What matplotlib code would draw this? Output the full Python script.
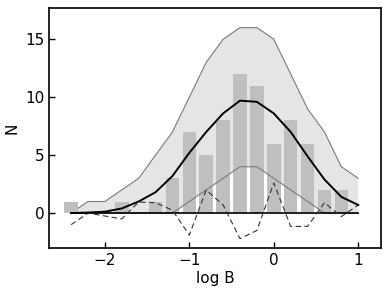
#!/usr/bin/env python3
"""histogram of log B with envelope"""
import matplotlib
matplotlib.use('Agg')
from matplotlib import pyplot as plt

# bar data
bar_x = [-2.4, -2.2, -2.0, -1.8, -1.6, -1.4, -1.2, -1.0, -0.8, -0.6, -0.4, -0.2, 0.0, 0.2, 0.4, 0.6, 0.8]
bar_n = [1, 0, 0, 1, 0, 1, 3, 7, 5, 8, 12, 11, 6, 8, 6, 2, 2]

# curves sampled on the same grid (plus 1.0)
grid = [-2.4, -2.2, -2.0, -1.8, -1.6, -1.4, -1.2, -1.0, -0.8, -0.6, -0.4, -0.2, 0.0, 0.2, 0.4, 0.6, 0.8, 1.0]
upper = [0, 1, 1, 2, 3, 5, 7, 10, 13, 15, 16, 16, 15, 12, 9, 7, 4, 3]
lower = [0, 0, 0, 0, 0, 0, 0, 1, 2, 3, 4, 4, 3, 2, 1, 0, 0, 0]
mean = [0, 0.05, 0.12, 0.4, 1.0, 1.8, 3.2, 5.2, 7.0, 8.6, 9.7, 9.6, 8.6, 7.0, 4.9, 2.9, 1.4, 0.7]
resid = [-1.0, 0, -0.25, -0.5, 0.95, 0.9, 0.25, -1.9, 2.0, 0.7, -2.2, -1.5, 2.6, -1.15, -1.15, 0.9, -0.3, 0.7]

fig = plt.figure(figsize=(3.9, 2.93), dpi=100)
ax = fig.add_axes([0.126, 0.154, 0.851, 0.819])

ax.fill_between(grid, lower, upper, facecolor='#e5e5e5', edgecolor='none', zorder=1)
ax.plot(grid, upper, c='#7a7a7a', lw=0.8, zorder=2)
ax.plot(grid, lower, c='#7a7a7a', lw=0.8, zorder=4)
ax.bar(bar_x, bar_n, width=0.16, color='#bfbfbf', edgecolor='none', zorder=3)
ax.plot([grid[0], grid[-1]], [0, 0], c='black', lw=1.2, zorder=5)
ax.plot(grid, resid, c='#333333', lw=0.8, ls=(0, (5, 3)), zorder=5)
ax.plot(grid, mean, c='black', lw=1.4, zorder=6)

ax.set_xlim(-2.66, 1.27)
ax.set_ylim(-3.0, 17.7)
ax.set_xticks([-2, -1, 0, 1])
ax.set_yticks([0, 5, 10, 15])
ax.tick_params(direction='in', labelsize=11, width=1, length=4)
for s in ax.spines.values():
	s.set_linewidth(1.2)
ax.set_xlabel('log B', fontsize=11, labelpad=2)
ax.set_ylabel('N', fontsize=11)

fig.savefig('out.png', dpi=100)
